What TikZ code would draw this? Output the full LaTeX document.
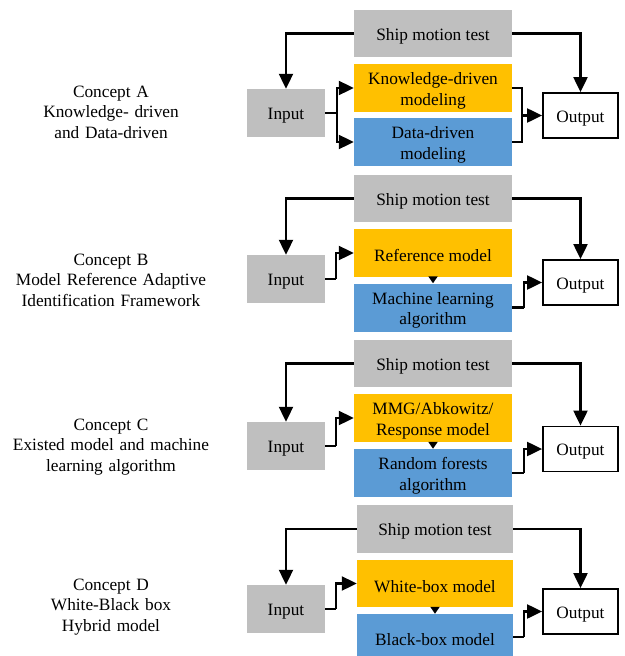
\documentclass[tikz,border=0pt]{standalone}
\usepackage{fontspec}
\setmainfont{Liberation Serif}
\usetikzlibrary{arrows.meta}
\definecolor{boxgray}{RGB}{191,191,191}
\definecolor{boxorange}{RGB}{255,192,0}
\definecolor{boxblue}{RGB}{91,155,213}
\newcommand{\lowtxt}{\rule{0pt}{17.5pt}}
\begin{document}
\begin{tikzpicture}[x=1pt,y=-1pt,
  every node/.style={font=\fontsize{17.3}{20.5}\selectfont, inner sep=0pt, align=center},
  graybox/.style={fill=boxgray, minimum width=158pt, minimum height=47pt},
  orangebox/.style={fill=boxorange, minimum width=158pt, minimum height=48pt},
  bluebox/.style={fill=boxblue, minimum width=158pt, minimum height=48pt},
  inbox/.style={fill=boxgray, minimum width=78pt, minimum height=48pt},
  outbox/.style={draw=black, line width=1.8pt, fill=white, minimum width=75pt, minimum height=45pt},
  conceptlabel/.style={text width=230pt},
  ln/.style={line width=2.1pt, line join=miter},
  arr/.style={ln, -{Triangle[length=15pt,width=14pt]}},
  smallarr/.style={ln, -{Triangle[length=7pt,width=9pt]}}]
\clip (0,0) rectangle (624,656);
\fill[white] (0,0) rectangle (624,656);

% ---------- Concept A ----------
\node[conceptlabel] (labA) at (111,112) {Concept A\\Knowledge- driven\\and Data-driven};
\node[graybox] (shipA) at (433,33.5) {\lowtxt Ship motion test};
\node[orangebox] (kdA) at (433,88) {\lowtxt Knowledge-driven\\modeling};
\node[bluebox] (ddA) at (433,142) {\lowtxt Data-driven\\modeling};
\node[inbox] (inA) at (286,113) {\lowtxt Input};
\node[outbox] (outA) at (580.5,115.5) {\lowtxt Output};
\coordinate (sA) at (337,113);
\coordinate (mA) at (522,115.5);
\draw[arr] (shipA.west) -| (inA.north);
\draw[arr] (shipA.east) -| (outA.north);
\draw[ln] (inA.east) -- (sA);
\draw[arr] (sA) |- (kdA.west);
\draw[arr] (sA) |- (ddA.west);
\draw[ln] (kdA.east) -| (mA);
\draw[ln] (ddA.east) -| (mA);
\draw[arr] (mA) -- (outA.west);

% ---------- Concept B ----------
\node[conceptlabel] (labB) at (111,280) {Concept B\\Model Reference Adaptive\\Identification Framework};
\node[graybox] (shipB) at (433,198.5) {\lowtxt Ship motion test};
\node[orangebox] (refB) at (433,253) {\lowtxt Reference model};
\node[bluebox] (mlB) at (433,307.5) {\lowtxt Machine learning\\algorithm};
\node[inbox] (inB) at (286,279) {\lowtxt Input};
\node[outbox] (outB) at (580.5,282.5) {\lowtxt Output};
\coordinate (sB) at (336,279);
\coordinate (mB) at (524,307.5);
\draw[arr] (shipB.west) -| (inB.north);
\draw[arr] (shipB.east) -| (outB.north);
\draw[ln] (inB.east) -- (sB);
\draw[arr] (sB) |- (refB.west);
\draw[smallarr] (refB.south) -- (mlB.north);
\draw[ln] (mlB.east) -- (mB);
\draw[arr] (mB) |- (outB.west);

% ---------- Concept C ----------
\node[conceptlabel] (labC) at (111,447) {Concept C\\Existed model and machine\\learning algorithm};
\node[graybox] (shipC) at (433,363.5) {\lowtxt Ship motion test};
\node[orangebox] (mmgC) at (433,418) {\lowtxt MMG/Abkowitz/\\Response model};
\node[bluebox] (rfC) at (433,473) {\lowtxt Random forests\\algorithm};
\node[inbox] (inC) at (286,446) {\lowtxt Input};
\node[outbox] (outC) at (580.5,449) {\lowtxt Output};
\coordinate (sC) at (336,446);
\coordinate (mC) at (524,473);
\draw[arr] (shipC.west) -| (inC.north);
\draw[arr] (shipC.east) -| (outC.north);
\draw[ln] (inC.east) -- (sC);
\draw[arr] (sC) |- (mmgC.west);
\draw[smallarr] (mmgC.south) -- (rfC.north);
\draw[ln] (rfC.east) -- (mC);
\draw[arr] (mC) |- (outC.west);

% ---------- Concept D ----------
\node[conceptlabel] (labD) at (111,607) {Concept D\\White-Black box\\Hybrid model};
\node[graybox, minimum width=156pt, minimum height=48pt] (shipD) at (435,529) {\lowtxt Ship motion test};
\node[orangebox, minimum width=156pt, minimum height=47pt] (wbD) at (435,583.5) {\lowtxt White-box model};
\node[bluebox, minimum width=156pt, minimum height=46pt] (bbD) at (435,637) {\lowtxt Black-box model};
\node[inbox] (inD) at (286,609) {\lowtxt Input};
\node[outbox] (outD) at (580.5,611.5) {\lowtxt Output};
\coordinate (sD) at (336,609);
\coordinate (mD) at (524,637);
\draw[arr] (shipD.west) -| (inD.north);
\draw[arr] (shipD.east) -| (outD.north);
\draw[ln] (inD.east) -- (sD);
\draw[arr] (sD) |- (wbD.west);
\draw[smallarr] (wbD.south) -- (bbD.north);
\draw[ln] (bbD.east) -- (mD);
\draw[arr] (mD) |- (outD.west);
\end{tikzpicture}
\end{document}
